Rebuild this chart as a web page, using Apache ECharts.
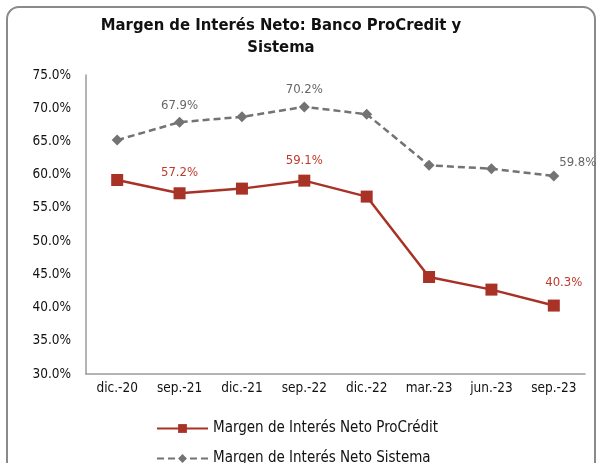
<!DOCTYPE html>
<html>
<head>
<meta charset="utf-8">
<script src="https://cdn.jsdelivr.net/npm/echarts@6/dist/echarts.min.js"></script>
<style>
  html, body { margin: 0; padding: 0; background: #fff; }
  #chart { width: 600px; height: 463px; }
</style>
</head>
<body>
<div id="chart"></div>
<script>
const categories = ["dic.-20", "sep.-21", "dic.-21", "sep.-22", "dic.-22", "mar.-23", "jun.-23", "sep.-23"];
const procredit = [59.2, 57.2, 57.9, 59.1, 56.7, 44.6, 42.7, 40.3];
const sistema = [65.2, 67.9, 68.7, 70.2, 69.1, 61.4, 60.9, 59.8];
const labelled = [1, 3, 7];
const seriesNames = ["Margen de Interés Neto ProCrédit", "Margen de Interés Neto Sistema"];

const font = "'DejaVu Sans Condensed', 'DejaVu Sans', sans-serif";
const red = "#a93226";
const gray = "#737373";

const chart = echarts.init(document.getElementById("chart"));

// etiquetas solo en algunos puntos
const pcData = procredit.map((v, i) => ({
  value: v,
  label: { show: labelled.includes(i), offset: i === 7 ? [10, -2] : [0, 0] }
}));
const siData = sistema.map((v, i) => ({
  value: v,
  label: { show: labelled.includes(i), offset: i === 7 ? [24, 4] : [0, 0] }
}));

const legendBase = {
  left: 151,
  itemWidth: 51,
  itemHeight: 11,
  textStyle: { fontFamily: font, fontSize: 15, color: "#111" }
};

chart.setOption({
  animation: false,
  textStyle: { fontFamily: font },
  graphic: [{
    type: "rect",
    shape: { x: 7, y: 7, width: 588, height: 480, r: 12 },
    style: { fill: "none", stroke: "#8a8a8a", lineWidth: 2 },
    silent: true
  }],
  title: {
    text: "Margen de Interés Neto: Banco ProCredit y\nSistema",
    left: 276,
    top: 10,
    textAlign: "center",
    textStyle: { fontFamily: font, fontSize: 16.5, fontWeight: "bold", color: "#111", lineHeight: 22 }
  },
  legend: [
    Object.assign({ top: 416, data: [seriesNames[0]] }, legendBase),
    Object.assign({ top: 446, data: [seriesNames[1]] }, legendBase)
  ],
  grid: { left: 86, right: 15, top: 75, bottom: 89 },
  xAxis: {
    type: "category",
    data: categories,
    boundaryGap: true,
    axisLine: { lineStyle: { color: "#9a9a9a", width: 1.5 } },
    axisTick: { show: false },
    axisLabel: { fontFamily: font, fontSize: 13.5, color: "#111", margin: 7 }
  },
  yAxis: {
    type: "value",
    min: 30,
    max: 75,
    interval: 5,
    splitLine: { show: false },
    axisLine: { show: true, lineStyle: { color: "#9a9a9a", width: 1.5 } },
    axisTick: { show: false },
    axisLabel: {
      fontFamily: font, fontSize: 13.5, color: "#111", margin: 15,
      formatter: v => v.toFixed(1) + "%"
    }
  },
  series: [
    {
      name: seriesNames[0],
      type: "line",
      data: pcData,
      symbol: "rect",
      symbolSize: 12,
      itemStyle: { color: red },
      lineStyle: { color: red, width: 2.5 },
      label: {
        position: "top",
        distance: 8,
        color: "#c0392b",
        fontFamily: font,
        fontSize: 13,
        formatter: p => p.value.toFixed(1) + "%"
      }
    },
    {
      name: seriesNames[1],
      type: "line",
      data: siData,
      symbol: "diamond",
      symbolSize: 11,
      itemStyle: { color: gray },
      lineStyle: { color: gray, width: 2.5, type: [7, 4] },
      label: {
        position: "top",
        distance: 5,
        color: "#666",
        fontFamily: font,
        fontSize: 13,
        formatter: p => p.value.toFixed(1) + "%"
      }
    }
  ]
});
</script>
</body>
</html>
